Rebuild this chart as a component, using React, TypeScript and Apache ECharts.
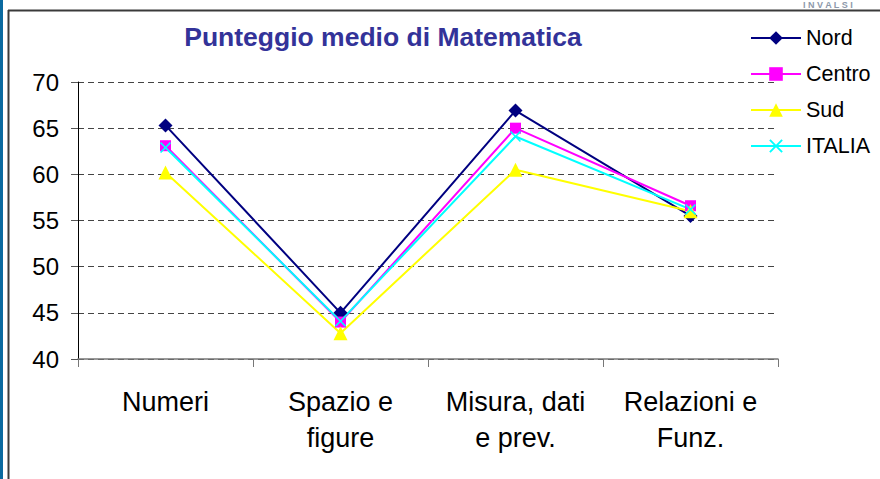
import React, { useEffect, useRef } from "react";
import * as echarts from "echarts";

const categories = ["Numeri", "Spazio e\nfigure", "Misura, dati\ne prev.", "Relazioni e\nFunz."];
const nord = [65.3, 45.0, 66.9, 55.5];
const centro = [63.1, 44.0, 65.0, 56.6];
const sud = [60.2, 42.8, 60.5, 56.0];
const italia = [62.9, 44.1, 64.1, 56.2];
const yMin = 40;
const yMax = 70;
const yStep = 5;

const crossPath =
  "path://M0,1L1,0L5,4L9,0L10,1L6,5L10,9L9,10L5,6L1,10L0,9L4,5Z";

export default function App() {
  const ref = useRef<HTMLDivElement>(null);
  useEffect(() => {
    document.body.style.margin = "0";
    const chart = echarts.init(ref.current!, null, { renderer: "svg" });
    const font = "'Liberation Sans', Arial, sans-serif";
    const mk = (name: string, data: number[], color: string, symbol: string, size: number) => ({
      name,
      type: "line",
      data,
      symbol,
      symbolSize: size,
      lineStyle: { color, width: 2 },
      itemStyle: { color },
      z: 3,
    });
    chart.setOption({
      animation: false,
      backgroundColor: "#ffffff",
      textStyle: { fontFamily: font },
      title: {
        text: "Punteggio medio di Matematica",
        left: 378,
        textAlign: "center",
        top: 18,
        textStyle: { fontSize: 26.5, fontWeight: "bold", color: "#333399", fontFamily: font },
      },
      legend: {
        orient: "vertical",
        left: 745,
        top: 22,
        itemWidth: 50,
        itemHeight: 17,
        itemGap: 14,
        textStyle: { fontSize: 21.5, lineHeight: 20, color: "#000", fontFamily: font },
        data: ["Nord", "Centro", "Sud", "ITALIA"],
      },
      grid: { left: 78, right: 102, top: 82, bottom: 120 },
      xAxis: {
        type: "category",
        data: categories,
        boundaryGap: true,
        axisLine: { lineStyle: { color: "#777", width: 1.5 } },
        axisTick: { show: true, length: 8, alignWithLabel: false, lineStyle: { color: "#777" } },
        axisLabel: { interval: 0, hideOverlap: false, fontSize: 27, lineHeight: 36, margin: 25, color: "#000", fontFamily: font },
      },
      yAxis: {
        type: "value",
        min: yMin,
        max: yMax,
        interval: yStep,
        axisLine: { show: true, lineStyle: { color: "#000", width: 1 } },
        axisTick: { show: true, length: 7, lineStyle: { color: "#555" } },
        axisLabel: { fontSize: 24, margin: 19, color: "#000", fontFamily: font },
        splitLine: { show: true, lineStyle: { color: "#444", type: [6, 4], width: 1 } },
      },
      series: [
        mk("Nord", nord, "#000080", "diamond", 14),
        mk("Centro", centro, "#FF00FF", "rect", 11),
        mk("Sud", sud, "#FFFF00", "triangle", 14),
        mk("ITALIA", italia, "#00FFFF", crossPath, 11),
      ],
      graphic: [
        { type: "rect", shape: { x: 0, y: 0, width: 3, height: 479 }, style: { fill: "#0A6AA0" }, silent: true },
        { type: "line", shape: { x1: 8.5, y1: 10, x2: 8.5, y2: 479 }, style: { stroke: "#3a3a3a", lineWidth: 2 }, silent: true },
        { type: "line", shape: { x1: 8, y1: 10.5, x2: 880, y2: 10.5 }, style: { stroke: "#3a3a3a", lineWidth: 2 }, silent: true },
        {
          type: "text",
          x: 803,
          y: 0,
          style: { text: "I N V A L S I", fontSize: 9, fontWeight: "bold", fill: "#8d99ab", fontFamily: font },
          silent: true,
        },
      ],
    });
    return () => chart.dispose();
  }, []);
  return <div ref={ref} style={{ width: 880, height: 479 }} />;
}
